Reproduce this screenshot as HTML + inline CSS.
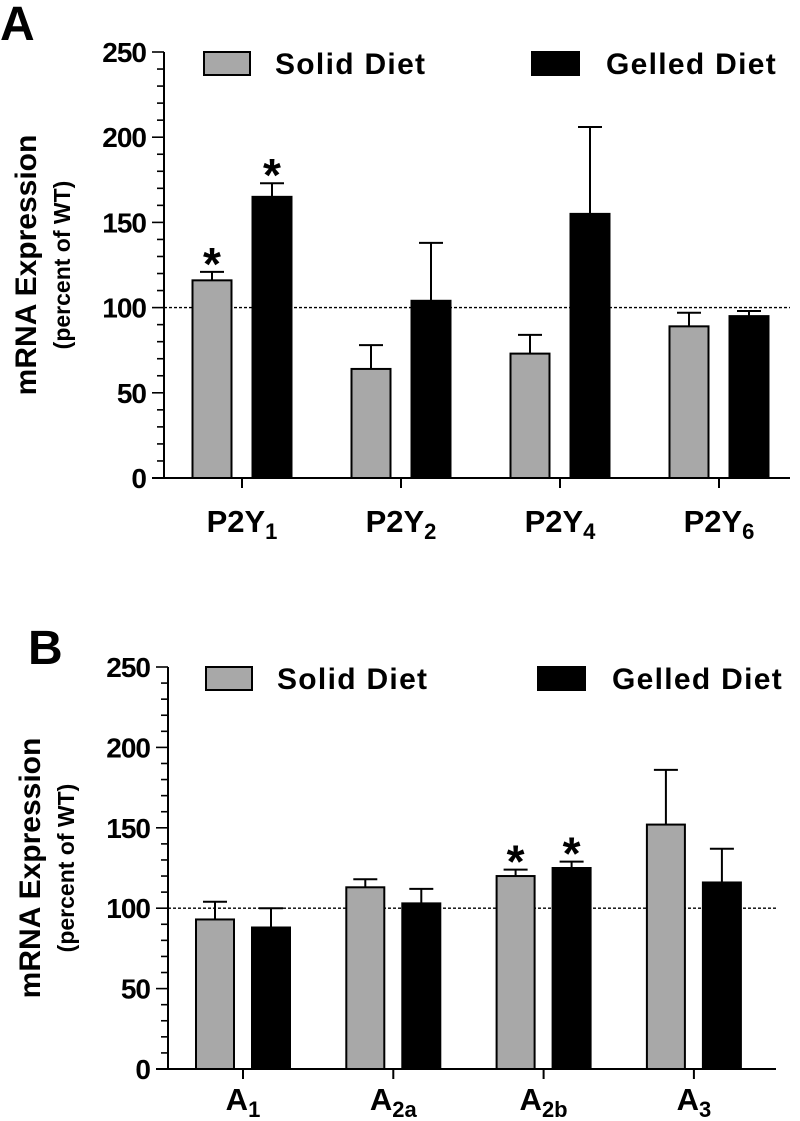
<!DOCTYPE html>
<html><head><meta charset="utf-8"><style>
body{margin:0;background:#fff}
svg{display:block;font-family:"Liberation Sans",Arial,sans-serif}
</style></head><body>
<svg id="c" width="800" height="1121" viewBox="0 0 800 1121"></svg>
<script>
const catsA=["P2Y","P2Y","P2Y","P2Y"];
const subsA=["1","2","4","6"];
const solidA=[116,64,73,89];
const solidErrA=[5,14,11,8];
const gelA=[165,104,155,95];
const gelErrA=[8,34,51,3];
const starSolidA=[true,false,false,false];
const starGelA=[true,false,false,false];
const catsB=["A","A","A","A"];
const subsB=["1","2a","2b","3"];
const solidB=[93,113,120,152];
const solidErrB=[11,5,4,34];
const gelB=[88,103,125,116];
const gelErrB=[12,9,4,21];
const starSolidB=[false,false,true,false];
const starGelB=[false,false,true,false];
const yTicks=[0,50,100,150,200,250];

const NS="http://www.w3.org/2000/svg";
const svg=document.getElementById('c');
function mk(tag,at,parent){const e=document.createElementNS(NS,tag);for(const k in at)e.setAttribute(k,at[k]);(parent||svg).appendChild(e);return e;}

function panel(p){
  const g=mk('g',{});
  
  
  const y=v=>p.y0-(v/250)*(p.y0-p.y250);
  const x=i=>p.g0+i*p.gs;
  const L=mk('text',{x:p.letterX,y:p.letterY,'font-size':48,'font-weight':'bold'},g);L.textContent=p.letter;
  
  const cy=(p.y0+p.y250)/2;
  const t1=mk('text',{transform:`translate(${p.tx},${cy}) rotate(-90)`,'text-anchor':'middle','font-size':30,'font-weight':'bold'},g);t1.textContent='mRNA Expression';
  
  const t2=mk('text',{transform:`translate(${p.tx+34},${cy}) rotate(-90)`,'text-anchor':'middle','font-size':23,'font-weight':'bold'},g);t2.textContent='(percent of WT)';
  
  const dl=mk('line',{x1:p.ax,x2:p.xEnd,y1:y(100),y2:y(100),stroke:'#000','stroke-width':1.4,'stroke-dasharray':'3,2'},g);
  
  for(let i=0;i<p.solid.length;i++){
    [[p.solid,p.solidErr,p.starS,-p.off,'#a8a8a8','bar-solid'],[p.gel,p.gelErr,p.starG,p.off,'#000','bar-gelled']].forEach(([vals,errs,stars,o,fill,nm])=>{
      const cx=x(i)+o, v=vals[i], top=y(v);
      const eb=mk('line',{x1:cx,x2:cx,y1:top,y2:y(v+errs[i]),stroke:'#000','stroke-width':2},g);
      
      const cap=mk('line',{x1:cx-12,x2:cx+12,y1:y(v+errs[i]),y2:y(v+errs[i]),stroke:'#000','stroke-width':2},g);
      
      const r=mk('rect',{x:cx-p.bw/2,y:top,width:p.bw,height:p.y0-top,fill:fill,stroke:'#000','stroke-width':2},g);
      
      if(stars[i]){const s=mk('text',{x:cx,y:y(v+errs[i])+8,'text-anchor':'middle','font-size':46,'font-weight':'bold'},g);s.textContent='*';
        }
    });
    const tk=mk('line',{x1:x(i),x2:x(i),y1:p.y0,y2:p.y0+10,stroke:'#000','stroke-width':2},g);
    
    const lb=mk('text',{x:x(i),y:p.y0+p.lblOff,'text-anchor':'middle','font-size':31,'font-weight':'bold'},g);
    
    lb.appendChild(document.createTextNode(p.cats[i]));
    const ts=mk('tspan',{'font-size':22,dy:7},lb);ts.textContent=p.subs[i];
  }
  const ya=mk('line',{x1:p.ax,x2:p.ax,y1:p.y250,y2:p.y0+1,stroke:'#000','stroke-width':2},g);
  
  const xa=mk('line',{x1:p.ax-12,x2:p.xEnd,y1:p.y0,y2:p.y0,stroke:'#000','stroke-width':2},g);
  
  for(let v=0;v<=250;v+=10){
    const maj=v%50===0;
    const l=mk('line',{x1:p.ax-(maj?12:7),x2:p.ax,y1:y(v),y2:y(v),stroke:'#000','stroke-width':1.6},g);
    
  }
  yTicks.forEach(v=>{const t=mk('text',{x:p.ax-18,y:y(v)+10,'text-anchor':'end','font-size':28,'font-weight':'bold','letter-spacing':-1},g);t.textContent=v;
    });
  const lg=mk('g',{},g);
  const b1=mk('rect',{x:p.lx1,y:p.ly,width:46,height:23,fill:'#a8a8a8',stroke:'#000','stroke-width':2},lg);
  
  const s1=mk('text',{x:p.lx1+71,y:p.ly+22,'font-size':30,'font-weight':'bold','letter-spacing':1.3},lg);s1.textContent='Solid Diet';
  
  const b2=mk('rect',{x:p.lx2,y:p.ly,width:47,height:23,fill:'#000',stroke:'#000','stroke-width':2},lg);
  
  const s2=mk('text',{x:p.lx2+74,y:p.ly+22,'font-size':30,'font-weight':'bold','letter-spacing':1.3},lg);s2.textContent='Gelled Diet';
  
}
panel({name:'panel-a-p2y',letter:'A',letterX:0,letterY:40,tx:36,ax:164,y0:478,y250:52,xEnd:790,g0:242,gs:159,off:30,bw:39,lblOff:54,
  cats:catsA,subs:subsA,solid:solidA,solidErr:solidErrA,gel:gelA,gelErr:gelErrA,starS:starSolidA,starG:starGelA,lx1:204,lx2:532,ly:52});
panel({name:'panel-b-adenosine',letter:'B',letterX:28,letterY:664,tx:40,ax:168,y0:1069,y250:667,xEnd:776,g0:243,gs:150.3,off:28,bw:38,lblOff:41,
  cats:catsB,subs:subsB,solid:solidB,solidErr:solidErrB,gel:gelB,gelErr:gelErrB,starS:starSolidB,starG:starGelB,lx1:206,lx2:538,ly:667});
</script>
</body></html>
